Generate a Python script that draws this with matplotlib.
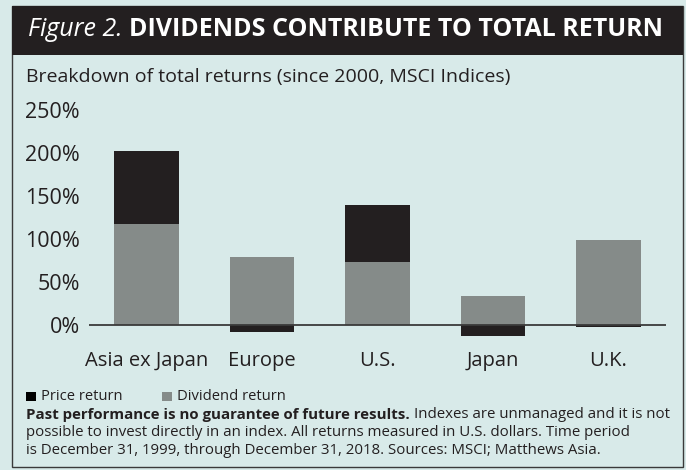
import numpy as np
import matplotlib.pyplot as plt
from matplotlib.patches import Rectangle

regions = ['Asia ex Japan', 'Europe', 'U.S.', 'Japan', 'U.K.']
dividend_return = [117, 79, 73, 34, 99]
price_return = [85, -8, 66, -13, -2]
yticks = [0, 50, 100, 150, 200, 250]

bg = '#d8eae9'
dark = '#231f20'
grey = '#858b89'
font = 'Open Sans'

plt.rcParams['font.family'] = font

W, H = 686, 470
fig = plt.figure(figsize=(W / 100, H / 100), dpi=100, facecolor=bg)

# pixel-space layer for panel, title and notes
pane = fig.add_axes([0, 0, 1, 1])
pane.set_xlim(0, W)
pane.set_ylim(H, 0)
pane.axis('off')
pane.add_patch(Rectangle((11.5, 6), 671.5, 461, facecolor=bg, edgecolor='#3a3a3a', lw=1.0))
pane.add_patch(Rectangle((11.5, 6), 671.5, 49, facecolor=dark, edgecolor='none'))

fig.canvas.draw()
renderer = fig.canvas.get_renderer()


def put(x, y, parts, size, color):
    # write a row of text pieces with different weights / styles side by side
    for txt, kw in parts:
        t = pane.text(x, y, txt, fontsize=size, color=color, va='center', ha='left', **kw)
        bb = t.get_window_extent(renderer)
        x += bb.width
    return x


put(28, 30, [('Figure 2. ', {'style': 'italic'}),
             ('DIVIDENDS CONTRIBUTE TO TOTAL RETURN', {'weight': 'bold'})], 18, 'white')
pane.text(26, 77, 'Breakdown of total returns (since 2000, MSCI Indices)', fontsize=14,
          color=dark, va='center')

# legend
pane.add_patch(Rectangle((26, 391.5), 9.5, 9.5, facecolor='black', edgecolor='none'))
pane.text(41, 396.5, 'Price return', fontsize=10.6, color=dark, va='center')
pane.add_patch(Rectangle((162, 391.5), 9.5, 9.5, facecolor=grey, edgecolor='none'))
pane.text(177, 396.5, 'Dividend return', fontsize=10.6, color=dark, va='center')

fs = 10.8
put(26, 415, [('Past performance is no guarantee of future results. ', {'weight': 'bold'}),
              ('Indexes are unmanaged and it is not', {})], fs, dark)
pane.text(26, 433, 'possible to invest directly in an index. All returns measured in U.S. dollars. Time period',
          fontsize=fs, color=dark, va='center')
pane.text(26, 451, 'is December 31, 1999, through December 31, 2018. Sources: MSCI; Matthews Asia.',
          fontsize=fs, color=dark, va='center')

# bar chart
ax = fig.add_axes([89 / W, (H - 342.2) / H, 577 / W, 232.2 / H])
ax.set_facecolor('none')
x = np.arange(len(regions))
div = np.array(dividend_return)
price = np.array(price_return)
ax.bar(x, div, width=0.56, color=grey, zorder=2)
ax.bar(x, price, width=0.56, bottom=np.where(price > 0, div, 0), color=dark, zorder=2)
ax.axhline(0, color='#3a3a3a', lw=1.3, zorder=3)

ax.set_xlim(-0.5, 4.5)
ax.set_ylim(-20, 250)
ax.set_yticks(yticks)
ax.set_yticklabels([f'{v}%' for v in yticks])
ax.set_xticks(x)
ax.set_xticklabels(regions)
ax.tick_params(axis='y', length=0, pad=6.5, labelsize=15.5, labelcolor=dark)
ax.tick_params(axis='x', length=0, pad=6, labelsize=14.5, labelcolor=dark)
for s in ax.spines.values():
    s.set_visible(False)

fig.savefig('out.png', dpi=100, facecolor=bg)
